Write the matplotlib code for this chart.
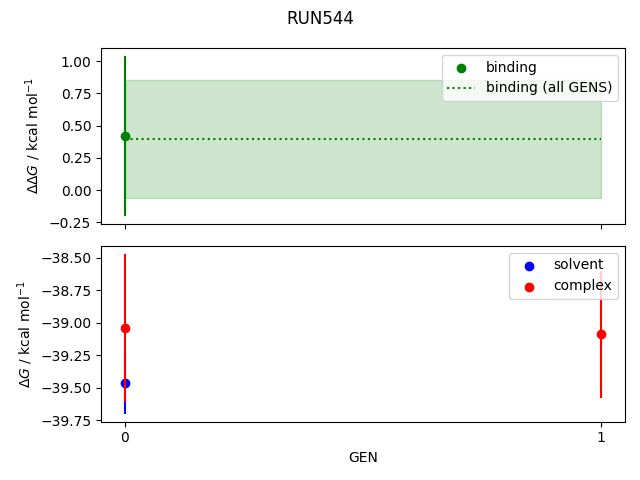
import matplotlib
matplotlib.use('Agg')
import matplotlib.pyplot as plt

gens = [0, 1]

binding_gen = [0]
binding = [0.42]
binding_err = [0.62]
binding_all = 0.394
binding_all_err = 0.457

solvent_gen = [0]
solvent = [-39.46]
solvent_err = [0.24]

complex_gen = [0, 1]
complex_ = [-39.04, -39.09]
complex_err = [0.57, 0.49]

fig, (ax1, ax2) = plt.subplots(2, 1, sharex=True, figsize=(6.4, 4.8))
fig.suptitle('RUN544')

ax1.scatter(binding_gen, binding, color='green', label='binding')
ax1.errorbar(binding_gen, binding, yerr=binding_err, color='green', ls='none')
ax1.hlines(binding_all, gens[0], gens[-1], color='green', linestyle=':', label='binding (all GENS)')
ax1.fill_between(gens, binding_all - binding_all_err, binding_all + binding_all_err, color='green', alpha=0.2)
ax1.set_ylabel(r'$\Delta\Delta G$ / kcal mol$^{-1}$')
ax1.legend(loc='upper right')

ax2.scatter(solvent_gen, solvent, color='blue', label='solvent')
ax2.errorbar(solvent_gen, solvent, yerr=solvent_err, color='blue', ls='none')
ax2.scatter(complex_gen, complex_, color='red', label='complex')
ax2.errorbar(complex_gen, complex_, yerr=complex_err, color='red', ls='none')
ax2.set_ylabel(r'$\Delta G$ / kcal mol$^{-1}$')
ax2.set_xlabel('GEN')
ax2.set_xticks(gens)
ax2.legend(loc='upper right')

plt.tight_layout()
plt.savefig('out.png', dpi=100)
